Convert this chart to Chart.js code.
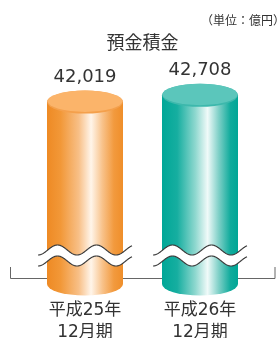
<!DOCTYPE html>
<html><head><meta charset="utf-8">
<script src="https://cdn.jsdelivr.net/npm/chart.js@4/dist/chart.umd.min.js"></script>
<style>html,body{margin:0;padding:0;background:#fff;}canvas{display:block;}</style>
</head><body>
<canvas id="c" width="280" height="338"></canvas>
<script>
const title = '預金積金';
const unitLabel = '（単位：億円）';
const categories = [['平成25年','12月期'], ['平成26年','12月期']];
const values = [42019, 42708];
const Y_MIN = 23450;
const Y_MAX = 46040;

const palettes = [
  {stops:[[0,'#EE8A24'],[0.18,'#F29838'],[0.42,'#F8C088'],[0.58,'#FFF5EA'],[0.73,'#F8C28A'],[0.88,'#F29A3E'],[1,'#EF8E2A']], top:'#FBB46A', rim:'#F4A04C'},
  {stops:[[0,'#00A797'],[0.2,'#16AEA0'],[0.44,'#8FD8CF'],[0.6,'#F0FAF9'],[0.75,'#7CCFC6'],[0.9,'#10AB9C'],[1,'#00A696']], top:'#5BC6BB', rim:'#3DB8AC'}
];

const RY = 11.5;

const cylPlugin = {
  id: 'cyl',
  beforeDatasetsDraw(chart) {
    const ctx = chart.ctx, a = chart.chartArea;
    const y = a.bottom - 6;
    ctx.save();
    ctx.strokeStyle = '#666';
    ctx.lineWidth = 1;
    ctx.beginPath();
    ctx.moveTo(a.left - 17, y - 11);
    ctx.lineTo(a.left - 17, y + 0.5);
    ctx.lineTo(a.right + 17.5, y + 0.5);
    ctx.lineTo(a.right + 17.5, y - 11);
    ctx.stroke();
    ctx.restore();
  },
  afterDatasetsDraw(chart) {
    const ctx = chart.ctx;
    const meta = chart.getDatasetMeta(0);
    meta.data.forEach((bar, i) => {
      const p = palettes[i];
      const {x, y, base, width} = bar.getProps(['x','y','base','width'], true);
      const l = x - width/2, r = x + width/2;
      const g = ctx.createLinearGradient(l, 0, r, 0);
      p.stops.forEach(s => g.addColorStop(s[0], s[1]));
      ctx.save();
      ctx.fillStyle = g;
      ctx.beginPath();
      ctx.ellipse(x, base, width/2, RY, 0, 0, Math.PI*2);
      ctx.fill();
      ctx.fillRect(l, y, width, base - y);
      // top ellipse
      ctx.fillStyle = p.rim;
      ctx.beginPath();
      ctx.ellipse(x, y, width/2, RY, 0, 0, Math.PI*2);
      ctx.fill();
      ctx.fillStyle = p.top;
      ctx.beginPath();
      ctx.ellipse(x, y - 0.8, width/2 - 0.5, RY - 0.8, 0, 0, Math.PI*2);
      ctx.fill();
      // wave break
      const xs = l - 9, xe = r + 9, lam = 39, A = 5;
      const c1 = base - 34, c2 = base - 23;
      const wy = (xx, c) => c + A*Math.cos(2*Math.PI*(xx - xs)/lam);
      ctx.beginPath();
      for (let xx = xs; xx <= xe; xx += 0.5) { if (xx === xs) ctx.moveTo(xx, wy(xx,c1)); else ctx.lineTo(xx, wy(xx,c1)); }
      for (let xx = xe; xx >= xs; xx -= 0.5) ctx.lineTo(xx, wy(xx,c2));
      ctx.closePath();
      ctx.fillStyle = '#fff';
      ctx.fill();
      ctx.strokeStyle = '#3c3c3c';
      ctx.lineWidth = 1.2;
      [c1, c2].forEach(c => {
        ctx.beginPath();
        for (let xx = xs; xx <= xe; xx += 0.5) { if (xx === xs) ctx.moveTo(xx, wy(xx,c)); else ctx.lineTo(xx, wy(xx,c)); }
        ctx.stroke();
      });
      // value label
      ctx.fillStyle = '#333';
      ctx.font = '18px "DejaVu Sans", sans-serif';
      ctx.textAlign = 'center';
      ctx.textBaseline = 'middle';
      ctx.fillText(values[i].toLocaleString('en-US'), x, y - 25);
      ctx.restore();
    });
    // unit label
    ctx.save();
    ctx.fillStyle = '#333';
    ctx.font = '12px "Noto Sans CJK JP", sans-serif';
    ctx.textAlign = 'right';
    ctx.textBaseline = 'middle';
    ctx.fillText(unitLabel, 285, 20);
    ctx.restore();
  }
};

new Chart(document.getElementById('c'), {
  type: 'bar',
  data: {
    labels: categories,
    datasets: [{ data: values, base: Y_MIN, backgroundColor: 'rgba(0,0,0,0)', borderWidth: 0, barThickness: 76 }]
  },
  options: {
    responsive: false,
    animation: false,
    devicePixelRatio: 1,
    layout: { padding: { left: 27.5, right: 22.5, top: 0, bottom: -13.2 } },
    plugins: {
      legend: { display: false },
      tooltip: { enabled: false },
      title: { display: true, text: title, color: '#333', font: { family: '"Noto Sans CJK JP", sans-serif', size: 18, weight: 'normal', lineHeight: 1.2 }, padding: { top: 31, bottom: 10 } }
    },
    scales: {
      x: {
        grid: { display: false },
        border: { display: false },
        ticks: { color: '#333', padding: 7.5, font: { family: '"DejaVu Sans", "Noto Sans CJK JP", sans-serif', size: 17, lineHeight: 1.3 }, maxRotation: 0 }
      },
      y: { display: false, min: Y_MIN, max: Y_MAX }
    }
  },
  plugins: [cylPlugin]
});
</script>
</body></html>
